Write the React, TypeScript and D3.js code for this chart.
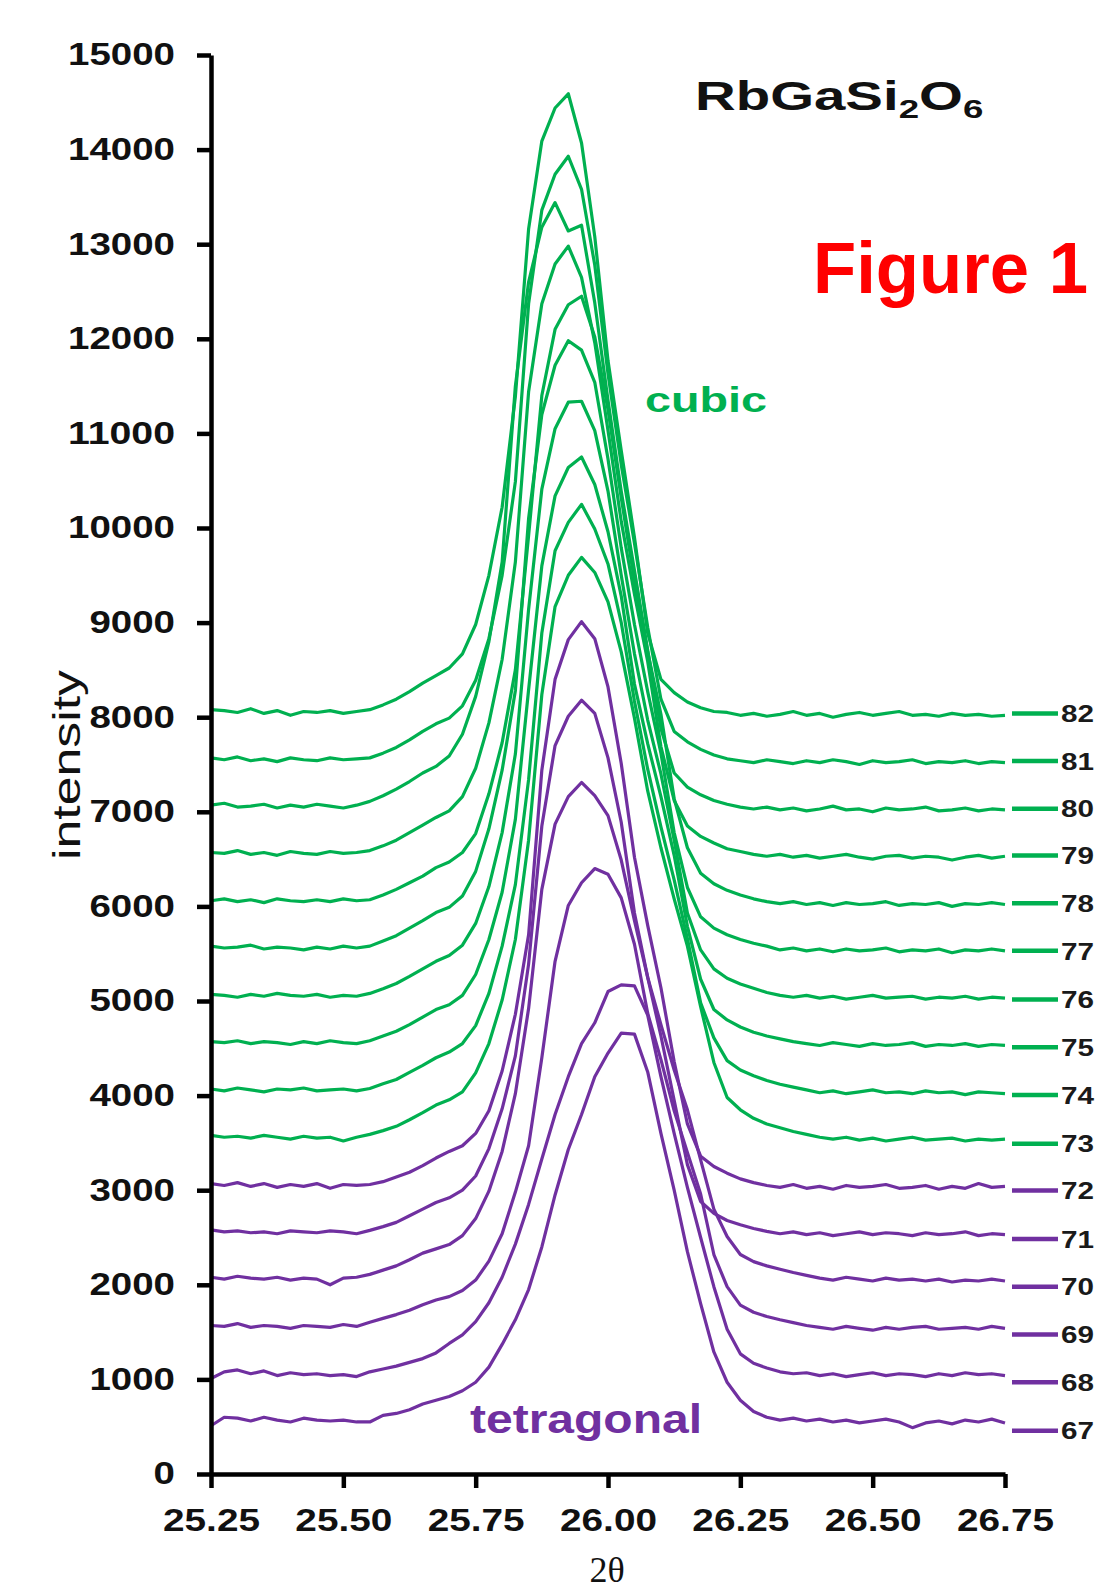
import React, { useEffect, useRef } from 'react'
import * as d3 from 'd3'

// 2-theta grid (deg)
const theta = [
  25.25, 25.275, 25.3, 25.325, 25.35, 25.375, 25.4, 25.425, 25.45, 25.475,
  25.5, 25.525, 25.55, 25.575, 25.6, 25.625, 25.65, 25.675, 25.7, 25.725,
  25.75, 25.775, 25.8, 25.825, 25.85, 25.875, 25.9, 25.925, 25.95, 25.975,
  26, 26.025, 26.05, 26.075, 26.1, 26.125, 26.15, 26.175, 26.2, 26.225,
  26.25, 26.275, 26.3, 26.325, 26.35, 26.375, 26.4, 26.425, 26.45, 26.475,
  26.5, 26.525, 26.55, 26.575, 26.6, 26.625, 26.65, 26.675, 26.7, 26.725, 26.75,
]

// stacked intensities, one scan per temperature step
const s82 = [8080, 8070, 8050, 8090, 8040, 8070, 8020, 8060, 8050, 8070, 8040, 8060,
  8080, 8130, 8190, 8270, 8360, 8440, 8520, 8670, 8980, 9500, 10220, 11390, 13160, 14090, 14440, 14590, 14070, 13080, 11770, 10820, 9900, 8890, 8400, 8260, 8160, 8100, 8060,
  8050, 8020, 8040, 8010, 8030, 8060, 8020, 8040, 8000, 8030, 8050, 8020, 8040, 8060, 8020, 8030, 8010, 8040, 8020, 8030, 8010, 8020]
const s81 = [7570, 7550, 7580, 7540, 7560, 7530, 7570, 7550, 7540, 7570, 7550, 7560,
  7570, 7620, 7680, 7760, 7850, 7930, 7990, 8120, 8390, 8830, 9500, 10490, 12370, 13360, 13740, 13930, 13580, 12780, 11630, 10670, 9840, 8950, 8190, 7850, 7740, 7660, 7600, 7560,
  7540, 7520, 7550, 7530, 7510, 7540, 7520, 7550, 7530, 7500, 7540, 7520, 7530, 7550, 7510, 7530, 7520, 7540, 7510, 7530, 7520]
const s80 = [7070, 7090, 7050, 7060, 7080, 7040, 7070, 7050, 7080, 7060, 7040, 7070,
  7110, 7170, 7240, 7320, 7410, 7480, 7590, 7820, 8220, 8800, 9640, 11500, 12600, 13180, 13440, 13140, 13200, 12380, 11350, 10390, 9550, 8710, 7880, 7410, 7260, 7180, 7120, 7080, 7050,
  7030, 7050, 7020, 7040, 7010, 7030, 7060, 7020, 7030, 7000, 7040, 7020, 7030, 7050, 7010, 7020, 7040, 7010, 7030, 7020]
const s79 = [6570, 6560, 6590, 6550, 6570, 6540, 6580, 6560, 6550, 6580, 6560, 6570,
  6590, 6640, 6700, 6780, 6860, 6940, 7010, 7160, 7460, 7940, 8610, 9640, 11440, 12370, 12790, 12980, 12650, 11960, 11030, 10070, 9300, 8590, 7690, 7120, 6850, 6740, 6670, 6610, 6580, 6550,
  6530, 6550, 6520, 6540, 6510, 6530, 6550, 6520, 6500, 6530, 6540, 6510, 6530, 6520, 6490, 6520, 6540, 6510, 6530]
const s78 = [6060, 6080, 6050, 6070, 6040, 6080, 6060, 6050, 6070, 6050, 6080, 6060,
  6070, 6120, 6180, 6250, 6320, 6410, 6470, 6570, 6770, 7190, 7730, 8500, 9920, 11400, 12100, 12360, 12450, 12020, 11250, 10320, 9440, 8690, 8030, 7140, 6620, 6350, 6240, 6170, 6120, 6080, 6050,
  6030, 6050, 6020, 6040, 6010, 6040, 6020, 6030, 6050, 6010, 6030, 6020, 6040, 6000, 6030, 6020, 6040, 6020]
const s77 = [5580, 5560, 5570, 5590, 5550, 5570, 5560, 5540, 5570, 5550, 5580, 5560,
  5580, 5635, 5690, 5770, 5850, 5935, 5990, 6110, 6370, 6820, 7440, 8280, 10100, 11200, 11720, 11980, 11880, 11540, 10730, 9790, 8980, 8270, 7620, 6780, 6200, 5890, 5770, 5700, 5650, 5610, 5580,
  5540, 5560, 5530, 5550, 5520, 5550, 5530, 5540, 5560, 5520, 5540, 5530, 5550, 5510, 5540, 5530, 5550, 5530]
const s76 = [5070, 5060, 5040, 5070, 5050, 5080, 5060, 5050, 5070, 5040, 5060, 5050,
  5080, 5130, 5185, 5260, 5340, 5420, 5480, 5590, 5820, 6210, 6780, 7610, 9140, 10410, 11050, 11330, 11340, 11030, 10390, 9500, 8670, 7970, 7400, 6700, 5930, 5540, 5340, 5240, 5180, 5135, 5090, 5060,
  5040, 5060, 5030, 5050, 5020, 5040, 5060, 5030, 5040, 5050, 5020, 5040, 5030, 5050, 5020, 5040, 5030]
const s75 = [4570, 4560, 4580, 4550, 4570, 4560, 4540, 4570, 4550, 4580, 4560, 4550,
  4580, 4630, 4680, 4750, 4830, 4910, 4960, 5060, 5280, 5650, 6150, 6920, 8290, 9600, 10340, 10640, 10750, 10460, 9960, 9280, 8350, 7720, 7160, 6540, 5790, 5230, 4910, 4800, 4725, 4670, 4630, 4600, 4570,
  4550, 4530, 4560, 4540, 4520, 4550, 4530, 4540, 4560, 4520, 4540, 4530, 4550, 4520, 4540, 4530]
const s74 = [4070, 4050, 4080, 4060, 4040, 4070, 4060, 4080, 4050, 4060, 4070, 4050,
  4075, 4125, 4170, 4245, 4320, 4400, 4460, 4550, 4740, 5080, 5580, 6230, 7340, 8890, 9760, 10060, 10250, 9990, 9620, 9000, 8170, 7450, 6840, 6280, 5660, 4980, 4610, 4370, 4270, 4210, 4160, 4120, 4090, 4060,
  4030, 4050, 4020, 4040, 4060, 4030, 4040, 4020, 4050, 4030, 4040, 4010, 4040, 4030, 4020]
const s73 = [3580, 3560, 3570, 3550, 3580, 3560, 3540, 3570, 3550, 3560, 3520, 3560,
  3590, 3630, 3675, 3745, 3820, 3900, 3955, 4040, 4240, 4550, 5010, 5650, 6700, 8240, 9170, 9500, 9690, 9530, 9220, 8690, 7990, 7220, 6620, 6080, 5580, 4940, 4350, 3980, 3850, 3760, 3700, 3660, 3620, 3590, 3560,
  3540, 3560, 3530, 3550, 3520, 3540, 3560, 3530, 3540, 3550, 3520, 3540, 3530, 3540]
const s72 = [3070, 3050, 3080, 3040, 3070, 3030, 3060, 3040, 3070, 3020, 3060, 3050,
  3060, 3090, 3140, 3190, 3260, 3340, 3410, 3470, 3600, 3840, 4260, 4860, 5700, 7440, 8400, 8820, 9010, 8830, 8320, 7510, 6520, 5800, 5140, 4360, 3700, 3360, 3250, 3180, 3120, 3080, 3050,
  3030, 3060, 3020, 3040, 3010, 3050, 3030, 3040, 3060, 3020, 3030, 3050, 3010, 3040, 3020, 3070, 3030, 3040]
const s71 = [2580, 2560, 2570, 2550, 2560, 2540, 2570, 2560, 2550, 2570, 2560, 2540,
  2575, 2615, 2660, 2730, 2800, 2870, 2920, 3000, 3150, 3440, 3860, 4420, 5390, 6850, 7700, 8010, 8180, 8040, 7570, 6890, 5930, 5250, 4630, 3950, 3270, 2880, 2755, 2680, 2635, 2595, 2565,
  2540, 2560, 2530, 2550, 2520, 2540, 2560, 2530, 2550, 2540, 2520, 2550, 2530, 2540, 2560, 2520, 2540, 2530]
const s70 = [2080, 2060, 2090, 2070, 2060, 2080, 2050, 2070, 2060, 2000, 2070, 2080,
  2110, 2155, 2200, 2265, 2335, 2380, 2425, 2520, 2700, 2990, 3410, 4020, 4920, 6180, 6870, 7160, 7310, 7170, 6960, 6490, 5850, 5250, 4750, 4270, 3850, 3320, 2800, 2510, 2320, 2245, 2200, 2165, 2130, 2100,
  2070, 2050, 2080, 2060, 2040, 2070, 2050, 2060, 2040, 2060, 2030, 2050, 2040, 2060, 2040]
const s69 = [1570, 1560, 1590, 1550, 1570, 1560, 1540, 1570, 1560, 1550, 1580, 1560,
  1605, 1645, 1685, 1730, 1790, 1840, 1875, 1940, 2050, 2250, 2540, 2980, 3470, 4400, 5420, 6010, 6250, 6400, 6340, 6090, 5600, 4870, 4380, 3840, 3400, 2960, 2320, 1980, 1785, 1710, 1665, 1630, 1600, 1570,
  1550, 1530, 1560, 1540, 1520, 1550, 1530, 1550, 1560, 1530, 1540, 1550, 1530, 1560, 1540]
const s68 = [1010, 1080, 1100, 1060, 1090, 1040, 1070, 1050, 1060, 1040, 1050, 1030,
  1080, 1110, 1140, 1180, 1220, 1280, 1380, 1470, 1610, 1810, 2080, 2430, 2850, 3330, 3800, 4200, 4550, 4770, 5100, 5170, 5160, 4850, 4200, 3600, 3030, 2500, 1980, 1530, 1270, 1170, 1120, 1080,
  1060, 1070, 1040, 1060, 1030, 1050, 1070, 1040, 1060, 1050, 1030, 1060, 1040, 1070, 1050, 1060, 1040]
const s67 = [510, 600, 590, 560, 600, 570, 550, 590, 570, 560, 570, 550,
  550, 620, 640, 680, 740, 780, 820, 880, 970, 1130, 1370, 1630, 1950, 2400, 2950, 3430, 3800, 4200, 4450, 4660, 4650, 4250, 3600, 3000, 2350, 1800, 1290, 970, 780, 660, 600,
  570, 590, 560, 580, 550, 570, 540, 560, 580, 550, 490, 540, 560, 530, 570, 550, 580, 540]

const seriesNames = ['82', '81', '80', '79', '78', '77', '76', '75', '74', '73', '72', '71', '70', '69', '68', '67']
const seriesValues = [s82, s81, s80, s79, s78, s77, s76, s75, s74, s73, s72, s71, s70, s69, s68, s67]
const cubicNames = ['82', '81', '80', '79', '78', '77', '76', '75', '74', '73']
// height of each legend entry, in data units
const legendLevels = [8040, 7536, 7032, 6538, 6034, 5530, 5015, 4511, 4007, 3492, 2998, 2483, 1979, 1475, 971, 457]

const yTicks = [0, 1000, 2000, 3000, 4000, 5000, 6000, 7000, 8000, 9000, 10000, 11000, 12000, 13000, 14000, 15000]
const xTicks = [25.25, 25.5, 25.75, 26, 26.25, 26.5, 26.75]

const GREEN = '#00b050'
const PURPLE = '#7030a0'
const FONT = '"Liberation Sans", Arial, sans-serif'

export default function App() {
  const svgRef = useRef(null)

  useEffect(() => {
    const svg = d3.select(svgRef.current)
    svg.selectAll('*').remove()

    const x = d3.scaleLinear().domain([25.25, 26.75]).range([211, 1005])
    const y = d3.scaleLinear().domain([0, 15000]).range([1474, 55])

    const line = d3
      .line()
      .x((d, i) => x(theta[i]))
      .y((d) => y(d))

    // curves, 82 first so the tetragonal ones sit on top
    seriesValues.forEach((vals, k) => {
      const color = cubicNames.includes(seriesNames[k]) ? GREEN : PURPLE
      svg
        .append('path')
        .datum(vals)
        .attr('d', line)
        .attr('fill', 'none')
        .attr('stroke', color)
        .attr('stroke-width', 3.2)
        .attr('stroke-linejoin', 'round')
    })

    // legend at right
    const legend = svg.append('g')
    seriesNames.forEach((name, k) => {
      const color = cubicNames.includes(name) ? GREEN : PURPLE
      const ly = y(legendLevels[k])
      legend
        .append('line')
        .attr('x1', 1012)
        .attr('x2', 1058)
        .attr('y1', ly)
        .attr('y2', ly)
        .attr('stroke', color)
        .attr('stroke-width', 4.5)
      legend
        .append('text')
        .attr('x', 1061)
        .attr('y', ly)
        .attr('dy', '0.36em')
        .attr('font-family', FONT)
        .attr('font-weight', 'bold')
        .attr('font-size', 24)
        .attr('textLength', 33)
        .attr('lengthAdjust', 'spacingAndGlyphs')
        .attr('fill', '#1a1a1a')
        .text(name)
    })

    // axes
    const yAxis = d3
      .axisLeft(y)
      .tickValues(yTicks)
      .tickSize(14)
      .tickSizeOuter(0)
      .tickPadding(22)
      .tickFormat(d3.format('d'))
    const gy = svg.append('g').attr('transform', 'translate(211,0)').call(yAxis)

    const xAxis = d3
      .axisBottom(x)
      .tickValues(xTicks)
      .tickSize(14)
      .tickSizeOuter(0)
      .tickPadding(21)
      .tickFormat(d3.format('.2f'))
    const gx = svg.append('g').attr('transform', 'translate(0,1474)').call(xAxis)

    ;[gx, gy].forEach((g) => {
      g.select('.domain').attr('stroke', '#000').attr('stroke-width', 4.5)
      g.selectAll('.tick line').attr('stroke', '#000').attr('stroke-width', 4.5)
      g.selectAll('.tick text')
        .attr('font-family', FONT)
        .attr('font-weight', 'bold')
        .attr('font-size', 31)
        .attr('fill', '#111')
        .attr('lengthAdjust', 'spacingAndGlyphs')
    })
    gy.selectAll('.tick text').attr('textLength', (d) => String(d).length * 21.4)
    gx.selectAll('.tick text').attr('textLength', 97)

    // axis titles
    svg
      .append('text')
      .attr('transform', 'translate(80,765) rotate(-90)')
      .attr('text-anchor', 'middle')
      .attr('font-family', FONT)
      .attr('font-size', 38)
      .attr('textLength', 190)
      .attr('lengthAdjust', 'spacingAndGlyphs')
      .attr('fill', '#111')
      .text('intensity')

    svg
      .append('text')
      .attr('x', 607)
      .attr('y', 1582)
      .attr('text-anchor', 'middle')
      .attr('font-family', '"Liberation Serif", "Times New Roman", serif')
      .attr('font-size', 36)
      .attr('fill', '#111')
      .text('2θ')

    // compound name
    const title = svg
      .append('text')
      .attr('transform', 'translate(695,110) scale(1.41,1)')
      .attr('font-family', FONT)
      .attr('font-weight', 'bold')
      .attr('font-size', 40)
      .attr('fill', '#111')
    title.append('tspan').text('RbGaSi')
    title.append('tspan').attr('font-size', 26).attr('dy', 8).text('2')
    title.append('tspan').attr('dy', -8).text('O')
    title.append('tspan').attr('font-size', 26).attr('dy', 8).text('6')

    svg
      .append('text')
      .attr('x', 813)
      .attr('y', 293)
      .attr('font-family', FONT)
      .attr('font-weight', 'bold')
      .attr('font-size', 72)
      .attr('textLength', 275)
      .attr('lengthAdjust', 'spacingAndGlyphs')
      .attr('fill', '#ff0000')
      .text('Figure 1')

    svg
      .append('text')
      .attr('x', 645)
      .attr('y', 412)
      .attr('font-family', FONT)
      .attr('font-weight', 'bold')
      .attr('font-size', 35)
      .attr('textLength', 122)
      .attr('lengthAdjust', 'spacingAndGlyphs')
      .attr('fill', GREEN)
      .text('cubic')

    svg
      .append('text')
      .attr('x', 470)
      .attr('y', 1433)
      .attr('font-family', FONT)
      .attr('font-weight', 'bold')
      .attr('font-size', 40)
      .attr('textLength', 232)
      .attr('lengthAdjust', 'spacingAndGlyphs')
      .attr('fill', PURPLE)
      .text('tetragonal')
  }, [])

  return (
    <svg
      ref={svgRef}
      width={1095}
      height={1591}
      style={{ position: 'absolute', left: 0, top: 0, background: '#fff' }}
    ></svg>
  )
}
